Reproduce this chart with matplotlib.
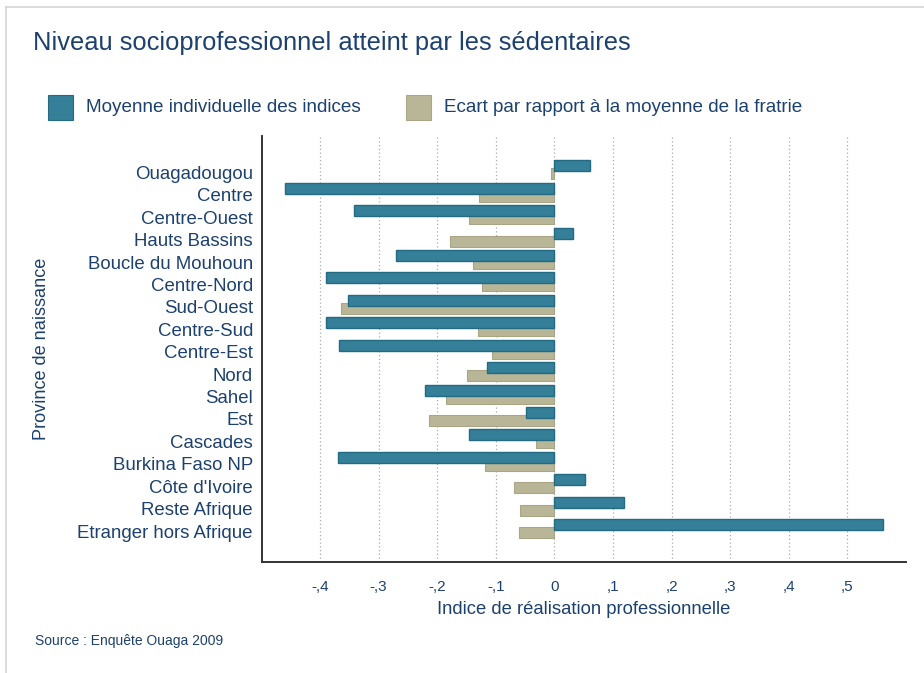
import matplotlib
matplotlib.use("Agg")
import matplotlib.pyplot as plt
from matplotlib.patches import Rectangle
from matplotlib.lines import Line2D
import numpy as np

plt.rcParams['font.family'] = ['Liberation Sans', 'DejaVu Sans']

categories = ["Ouagadougou", "Centre", "Centre-Ouest", "Hauts Bassins",
              "Boucle du Mouhoun", "Centre-Nord", "Sud-Ouest", "Centre-Sud",
              "Centre-Est", "Nord", "Sahel", "Est", "Cascades",
              "Burkina Faso NP", "Côte d'Ivoire", "Reste Afrique",
              "Etranger hors Afrique"]
moyenne = [0.061, -0.459, -0.342, 0.032, -0.270, -0.390, -0.352, -0.389,
           -0.368, -0.115, -0.220, -0.049, -0.146, -0.369, 0.053, 0.119, 0.561]
ecart = [-0.006, -0.128, -0.146, -0.179, -0.139, -0.124, -0.364, -0.131,
         -0.107, -0.150, -0.185, -0.214, -0.032, -0.119, -0.069, -0.059, -0.060]
xticks = [-0.4, -0.3, -0.2, -0.1, 0, 0.1, 0.2, 0.3, 0.4, 0.5]
xticklabels = ["-,4", "-,3", "-,2", "-,1", "0", ",1", ",2", ",3", ",4", ",5"]

W, H = 924, 673
BLUE = "#357f98"
BLUE_EDGE = "#236a83"
BEIGE = "#b9b697"
BEIGE_EDGE = "#a9a688"
TXT = "#1d416f"

fig = plt.figure(figsize=(W / 100, H / 100), dpi=100)
fig.patch.set_facecolor("white")

ax = fig.add_axes([262 / W, 1 - 562 / H, (906 - 262) / W, (562 - 136) / H])

y = np.arange(len(categories))
ax.barh(y + 0.07, ecart, height=0.49, color=BEIGE, edgecolor=BEIGE_EDGE,
        linewidth=0.8, zorder=2)
ax.barh(y - 0.29, moyenne, height=0.49, color=BLUE, edgecolor=BLUE_EDGE,
        linewidth=1.0, zorder=3)

ax.set_xlim(-0.499, 0.600)
ax.set_ylim(17.38, -1.62)
ax.set_yticks(y)
ax.set_yticklabels(categories, fontsize=13.45, color=TXT)
ax.set_xticks(xticks)
ax.set_xticklabels(xticklabels, fontsize=11, color=TXT)
ax.tick_params(axis='y', length=0, pad=6.5)
ax.tick_params(axis='x', length=0, pad=13)
ax.grid(axis='x', linestyle=(0, (1, 2)), color="#aaaaaa", linewidth=0.9, zorder=0)
ax.set_axisbelow(True)
for s in ["top", "right"]:
    ax.spines[s].set_visible(False)
for s in ["left", "bottom"]:
    ax.spines[s].set_color("#333333")
    ax.spines[s].set_linewidth(1.4)

ax.set_xlabel("Indice de réalisation professionnelle", fontsize=13.3, color=TXT, labelpad=5)
ax.set_ylabel("Province de naissance", fontsize=13.1, color=TXT)
ax.yaxis.set_label_coords((50 - 262) / (906 - 262), 0.5)

# Title
fig.text(33 / W, 1 - 43 / H, "Niveau socioprofessionnel atteint par les sédentaires",
         fontsize=18.4, color=TXT, va="center", ha="left")

# Legend
for (x0, label, c, ec) in [(48, "Moyenne individuelle des indices", BLUE, BLUE_EDGE),
                           (406, "Ecart par rapport à la moyenne de la fratrie", BEIGE, BEIGE_EDGE)]:
    fig.add_artist(Rectangle((x0 / W, 1 - 120 / H), 25 / W, 25 / H,
                             transform=fig.transFigure, facecolor=c,
                             edgecolor=ec, linewidth=0.8))
    fig.text((x0 + 38) / W, 1 - 108 / H, label, fontsize=13.55, color=TXT,
             va="center", ha="left")

# Source
fig.text(35 / W, 1 - 641 / H, "Source : Enquête Ouaga 2009", fontsize=10,
         color=TXT, va="center", ha="left")

# Card border
fig.add_artist(Line2D([6 / W, 1], [1 - 7 / H, 1 - 7 / H], transform=fig.transFigure,
                      color="#d6d6d6", linewidth=1.2))
fig.add_artist(Line2D([6 / W, 6 / W], [0, 1 - 7 / H], transform=fig.transFigure,
                      color="#d6d6d6", linewidth=1.2))

fig.savefig("out.png", dpi=100)
